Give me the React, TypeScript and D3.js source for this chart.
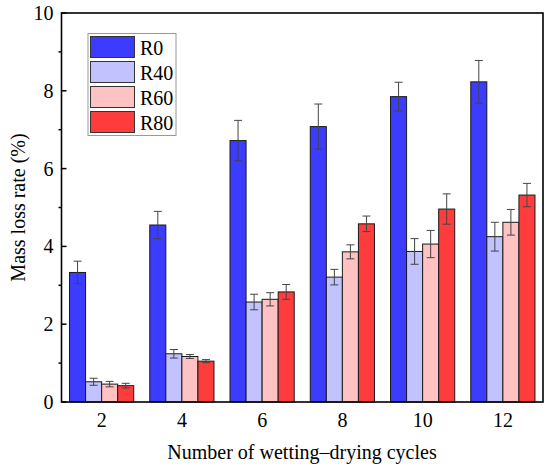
import React from "react";
import * as d3 from "d3";

const cycles = ["2", "4", "6", "8", "10", "12"];
const seriesNames = ["R0", "R40", "R60", "R80"];
const seriesColors = ["#3c3cff", "#c2c2ff", "#ffc2c2", "#ff3c3c"];
const R0 = [3.33, 4.55, 6.72, 7.08, 7.85, 8.23];
const R40 = [0.52, 1.24, 2.57, 3.21, 3.87, 4.25];
const R60 = [0.46, 1.17, 2.64, 3.86, 4.06, 4.62];
const R80 = [0.42, 1.05, 2.83, 4.58, 4.96, 5.32];
const R0err = [0.29, 0.35, 0.52, 0.58, 0.37, 0.55];
const R40err = [0.09, 0.11, 0.2, 0.2, 0.33, 0.37];
const R60err = [0.07, 0.05, 0.17, 0.18, 0.35, 0.33];
const R80err = [0.06, 0.04, 0.19, 0.2, 0.39, 0.3];
const yTicks = [0, 2, 4, 6, 8, 10];
const yMinorTicks = [1, 3, 5, 7, 9];

const values = [R0, R40, R60, R80];
const errors = [R0err, R40err, R60err, R80err];

export default function App() {
  const W = 550, H = 468;
  const L = 61.5, R = 543, T = 13, B = 402;
  const font = "Liberation Serif";
  const x = d3.scaleBand().domain(cycles).range([L, R]).paddingInner(0.2).paddingOuter(0.1);
  const xs = d3.scaleBand().domain(seriesNames).range([0, x.bandwidth()]);
  const y = d3.scaleLinear().domain([0, 10]).range([B, T]);
  const cap = 4;

  return (
    <svg width={W} height={H} style={{ position: "absolute", left: 0, top: 0, background: "#fff" }}>
      <rect x={0} y={0} width={W} height={H} fill="#fff" />
      {seriesNames.map((s, si) => (
        <g key={s}>
          {cycles.map((c, ci) => {
            const v = values[si][ci];
            const bx = (x(c) as number) + (xs(s) as number);
            return (
              <rect key={c} x={bx} y={y(v)} width={xs.bandwidth()} height={B - y(v)}
                fill={seriesColors[si]} stroke="#1a1a1a" strokeWidth={1} />
            );
          })}
        </g>
      ))}
      {seriesNames.map((s, si) => (
        <g key={s + "e"} stroke="#444" strokeWidth={1}>
          {cycles.map((c, ci) => {
            const v = values[si][ci];
            const e = errors[si][ci];
            const cx = (x(c) as number) + (xs(s) as number) + xs.bandwidth() / 2;
            return (
              <g key={c}>
                <line x1={cx} x2={cx} y1={y(v - e)} y2={y(v + e)} />
                <line x1={cx - cap} x2={cx + cap} y1={y(v + e)} y2={y(v + e)} />
                <line x1={cx - cap} x2={cx + cap} y1={y(v - e)} y2={y(v - e)} />
              </g>
            );
          })}
        </g>
      ))}
      <rect x={L} y={T} width={R - L} height={B - T} fill="none" stroke="#000" strokeWidth={1.6} />
      {yTicks.map((t) => (
        <g key={t}>
          <line x1={L} x2={L + 5} y1={y(t)} y2={y(t)} stroke="#000" strokeWidth={1.5} />
          <text x={L - 8} y={y(t)} dy="0.35em" textAnchor="end" fontFamily={font} fontSize={20}>{t}</text>
        </g>
      ))}
      {yMinorTicks.map((t) => (
        <line key={t} x1={L - 3} x2={L} y1={y(t)} y2={y(t)} stroke="#000" strokeWidth={1.5} />
      ))}
      {cycles.map((c) => (
        <text key={c} x={(x(c) as number) + x.bandwidth() / 2} y={427} textAnchor="middle" fontFamily={font} fontSize={20}>{c}</text>
      ))}
      <text x={302} y={458.5} textAnchor="middle" fontFamily={font} fontSize={20}>Number of wetting–drying cycles</text>
      <text transform={`translate(25,${(T + B) / 2}) rotate(-90)`} textAnchor="middle" fontFamily={font} fontSize={20}>Mass loss rate (%)</text>
      <g>
        <rect x={88} y={33.5} width={88} height={102} fill="#fff" stroke="#999" strokeWidth={1} />
        {seriesNames.map((s, si) => (
          <g key={s}>
            <rect x={90.5} y={36.5 + si * 25} width={44} height={21} fill={seriesColors[si]} stroke="#333" strokeWidth={1} />
            <text x={140} y={55 + si * 25} fontFamily={font} fontSize={20}>{s}</text>
          </g>
        ))}
      </g>
    </svg>
  );
}
